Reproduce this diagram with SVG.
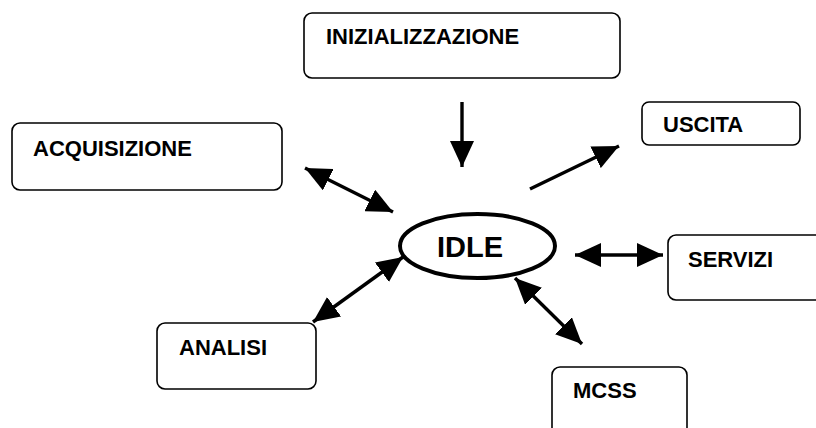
<svg xmlns="http://www.w3.org/2000/svg" width="816" height="428" viewBox="0 0 816 428">
<style>
.box{fill:#fff;stroke:#000;stroke-width:1.6}
.lbl{font-family:"Liberation Sans",Arial,sans-serif;font-weight:bold;font-size:22px;fill:#000}
.conn line{stroke:#000;stroke-width:3.4}
</style>
<defs>
<marker id="ah" markerUnits="userSpaceOnUse" markerWidth="26" markerHeight="24" refX="26" refY="12" orient="auto-start-reverse" viewBox="0 0 26 24">
<path d="M0,0 L26,12 L0,24 z" fill="#000"/>
</marker>
</defs>
<rect width="816" height="428" fill="#fff"/>
<g id="inizializzazione"><rect class="box" x="304" y="13" width="316" height="65" rx="8"/><text class="lbl" x="326" y="44">INIZIALIZZAZIONE</text></g>
<g id="acquisizione"><rect class="box" x="12" y="123" width="270" height="67" rx="8"/><text class="lbl" x="33" y="156">ACQUISIZIONE</text></g>
<g id="uscita"><rect class="box" x="642" y="102" width="158" height="43" rx="7"/><text class="lbl" x="663" y="132">USCITA</text></g>
<g id="idle"><ellipse cx="477.5" cy="246" rx="77.5" ry="32" fill="#fff" stroke="#000" stroke-width="4"/><text x="437" y="257" style="font-family:'Liberation Sans',Arial,sans-serif;font-weight:bold;font-size:29px">IDLE</text></g>
<g id="servizi"><rect class="box" x="668" y="235" width="160" height="65" rx="8"/><text class="lbl" x="688" y="267">SERVIZI</text></g>
<g id="analisi"><rect class="box" x="157" y="323" width="159" height="66" rx="8"/><text class="lbl" x="179" y="355">ANALISI</text></g>
<g id="mcss"><rect class="box" x="552" y="367" width="135" height="80" rx="8"/><text class="lbl" x="573" y="398">MCSS</text></g>
<g id="connectors" class="conn">
<line x1="462" y1="102" x2="462" y2="167" marker-end="url(#ah)"/>
<line x1="530" y1="189" x2="619" y2="146" marker-end="url(#ah)"/>
<line x1="305" y1="168" x2="393" y2="212" marker-start="url(#ah)" marker-end="url(#ah)"/>
<line x1="575" y1="255" x2="663" y2="255" marker-start="url(#ah)" marker-end="url(#ah)"/>
<line x1="313" y1="322" x2="403" y2="257" marker-start="url(#ah)" marker-end="url(#ah)"/>
<line x1="515" y1="278" x2="582" y2="344" marker-start="url(#ah)" marker-end="url(#ah)"/>
</g>
</svg>
